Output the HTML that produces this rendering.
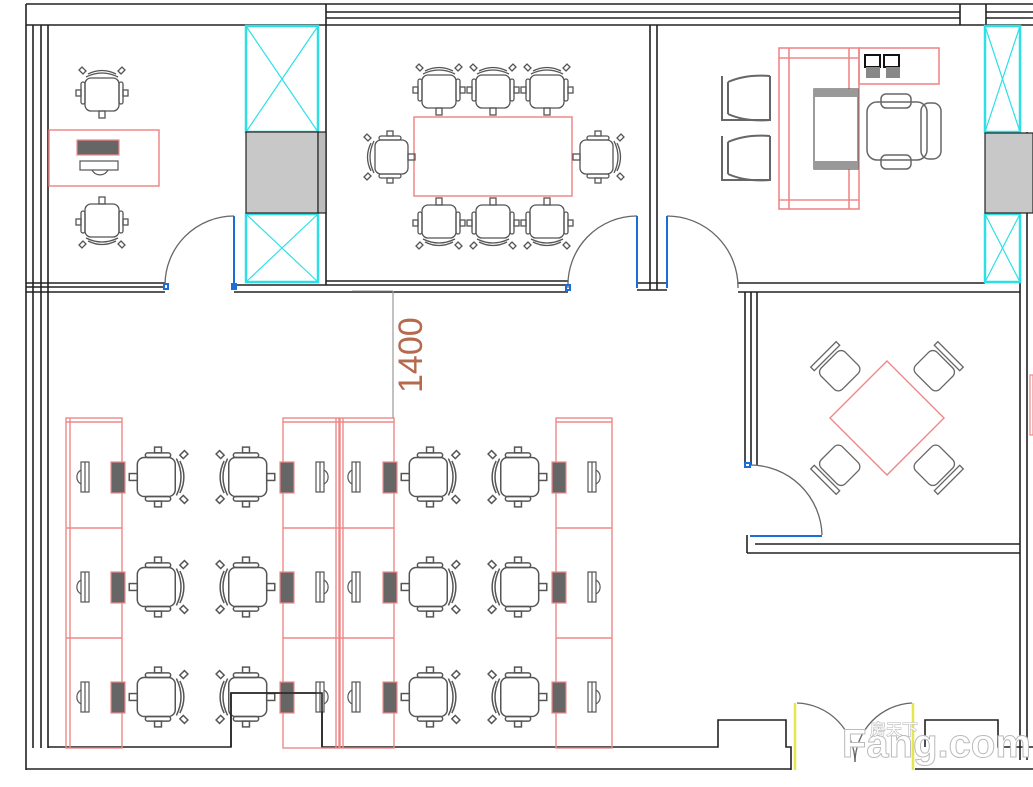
<!DOCTYPE html>
<html><head><meta charset="utf-8"><style>
html,body{margin:0;padding:0;background:#fff;}
svg{display:block;}
</style></head><body>
<svg width="1033" height="787" viewBox="0 0 1033 787" xmlns="http://www.w3.org/2000/svg">
<defs>
<g id="c" fill="none" stroke="#555" stroke-width="1.3">
  <rect x="-17" y="-15" width="34" height="33" rx="6"/>
  <path d="M-16,-16 Q0,-24 16,-16"/>
  <path d="M-14,-19 Q0,-26 14,-19"/>
  <rect x="-21" y="-11" width="4" height="22" rx="2"/>
  <rect x="17" y="-11" width="4" height="22" rx="2"/>
  <rect x="-26" y="-3" width="5" height="6"/>
  <rect x="21" y="-3" width="5" height="6"/>
  <rect x="-3" y="18" width="6" height="7"/>
  <path d="M-19,-19 l-4,-4 l3,-3 l4,4 z M19,-19 l4,-4 l-3,-3 l-4,4 z"/>
</g>
<g id="mon" fill="none" stroke="#555" stroke-width="1.2">
  <rect x="-4" y="-15" width="8" height="30" fill="#fff"/>
  <line x1="0" y1="-15" x2="0" y2="15"/>
  <path d="M-4,-7 A8,8 0 0 0 -4,7"/>
</g>
<g id="kb">
  <rect x="-7" y="-15" width="14" height="31" fill="#666" stroke="#e88" stroke-width="1.2"/>
</g>
<g id="lc" fill="none" stroke="#666" stroke-width="1.4">
  <path d="M-20,-10 L10,-10 Q20,-10 20,0 L20,14 Q20,22 12,22 L-20,22 Z" transform="rotate(0)"/>
  <rect x="-26" y="-14" width="6" height="38"/>
  <rect x="-20" y="-17" width="40" height="6" rx="3"/>
</g>
</defs>

<!-- outer walls -->
<g stroke="#222" stroke-width="1.6" fill="none">
  <line x1="26" y1="4" x2="1033" y2="4"/>
  <line x1="26" y1="4" x2="26" y2="770"/>
  <line x1="33" y1="25" x2="33" y2="748"/>
  <line x1="41" y1="25" x2="41" y2="748"/>
  <line x1="48" y1="25" x2="48" y2="748"/>
  <line x1="26" y1="25" x2="1033" y2="25"/>
  <line x1="326" y1="12" x2="960" y2="12"/>
  <line x1="326" y1="18" x2="960" y2="18"/>
  <line x1="986" y1="12" x2="1033" y2="12"/>
  <line x1="986" y1="18" x2="1033" y2="18"/>
  <line x1="326" y1="4" x2="326" y2="285"/>
  <line x1="960" y1="4" x2="960" y2="25"/>
  <line x1="986" y1="4" x2="986" y2="25"/>
  <line x1="650" y1="25" x2="650" y2="290"/>
  <line x1="657" y1="25" x2="657" y2="290"/>
  <line x1="1020" y1="25" x2="1020" y2="760"/>
  <line x1="1027" y1="132" x2="1027" y2="760"/>
  <!-- horizontal wall -->
  <line x1="26" y1="283" x2="165" y2="283"/>
  <line x1="26" y1="287" x2="165" y2="287"/>
  <line x1="26" y1="292" x2="165" y2="292"/>
  <line x1="234" y1="285" x2="568" y2="285"/>
  <line x1="234" y1="292" x2="568" y2="292"/>
  <line x1="326" y1="281" x2="568" y2="281"/>
  <line x1="637" y1="283" x2="667" y2="283"/>
  <line x1="637" y1="290" x2="667" y2="290"/>
  <line x1="738" y1="283" x2="985" y2="283"/>
  <line x1="738" y1="292" x2="1020" y2="292"/>
  <!-- right room -->
  <line x1="745" y1="292" x2="745" y2="465"/>
  <line x1="751" y1="292" x2="751" y2="465"/>
  <line x1="757" y1="292" x2="757" y2="465"/>
  <line x1="747" y1="535" x2="747" y2="553"/>
  <line x1="755" y1="544" x2="1020" y2="544"/>
  <line x1="747" y1="553" x2="1020" y2="553"/>
  <!-- bottom -->
  <polyline points="48,747 231,747 231,693 322,693 322,747 718,747 718,720 786,720 786,747 791,747 791,770"/>
  <line x1="26" y1="769" x2="791" y2="769"/>
  <polyline points="925,747 925,720 998,720 998,747 1033,747"/>
  <line x1="915" y1="769" x2="1033" y2="769"/>
</g>

<!-- cyan boxes / shafts -->
<g stroke="#2de0e6" stroke-width="2.5" fill="none">
  <rect x="246" y="26" width="72" height="106"/>
  <path d="M246,26 L318,132 M318,26 L246,132" stroke-width="1.2"/>
  <rect x="246" y="214" width="72" height="68"/>
  <path d="M246,214 L318,282 M318,214 L246,282" stroke-width="1.2"/>
  <rect x="985" y="26" width="35" height="106"/>
  <path d="M985,26 L1020,132 M1020,26 L985,132" stroke-width="1.2"/>
  <rect x="985" y="214" width="35" height="68"/>
  <path d="M985,214 L1020,282 M1020,214 L985,282" stroke-width="1.2"/>
</g>
<rect x="246" y="132" width="72" height="81" fill="#c8c8c8" stroke="#222" stroke-width="1.2"/>
<rect x="318" y="132" width="8" height="81" fill="#bbb" stroke="#222" stroke-width="1.2"/>
<rect x="985" y="133" width="48" height="80" fill="#c8c8c8" stroke="#222" stroke-width="1.2"/>

<!-- doors -->
<g fill="none" stroke="#666" stroke-width="1.3">
  <path d="M234,216 A69,69 0 0 0 165,285"/>
  <path d="M637,216 A69,69 0 0 0 568,288"/>
  <path d="M667,216 A71,71 0 0 1 738,288"/>
  <path d="M750,465 A72,72 0 0 1 822,535"/>
  <path d="M797,703 A60,60 0 0 1 855,762"/>
  <path d="M912,703 A60,60 0 0 0 855,762"/>
</g>
<g stroke="#1a6fd6" stroke-width="2" fill="none">
  <line x1="234" y1="216" x2="234" y2="288"/>
  <line x1="637" y1="216" x2="637" y2="288"/>
  <line x1="667" y1="216" x2="667" y2="288"/>
  <line x1="750" y1="536" x2="822" y2="536"/>
  <rect x="164" y="284" width="4" height="5"/>
  <rect x="232" y="284" width="4" height="5"/>
  <rect x="566" y="285" width="4" height="5"/>
  <rect x="745" y="463" width="5" height="4"/>
</g>
<g stroke="#e6e650" stroke-width="2.5">
  <line x1="795" y1="703" x2="795" y2="770"/>
  <line x1="913" y1="703" x2="913" y2="770"/>
</g>

<!-- room 1 -->
<rect x="49" y="130" width="110" height="56" fill="none" stroke="#e88" stroke-width="1.5"/>
<rect x="77" y="140" width="42" height="15" fill="#666" stroke="#e88" stroke-width="1.2"/>
<rect x="80" y="161" width="38" height="9" fill="none" stroke="#555" stroke-width="1.2"/>
<path d="M92,170 A9,9 0 0 0 108,170" fill="none" stroke="#555" stroke-width="1.2"/>
<use href="#c" transform="translate(102,93)"/>
<use href="#c" transform="translate(102,222) rotate(180)"/>

<!-- conference -->
<rect x="414" y="117" width="158" height="79" fill="none" stroke="#e88" stroke-width="1.5"/>
<use href="#c" transform="translate(439,90)"/>
<use href="#c" transform="translate(493,90)"/>
<use href="#c" transform="translate(547,90)"/>
<use href="#c" transform="translate(439,223) rotate(180)"/>
<use href="#c" transform="translate(493,223) rotate(180)"/>
<use href="#c" transform="translate(547,223) rotate(180)"/>
<use href="#c" transform="translate(390,157) rotate(-90)"/>
<use href="#c" transform="translate(598,157) rotate(90)"/>

<!-- manager -->
<g stroke="#e88" stroke-width="1.6" fill="none">
  <rect x="779" y="48" width="80" height="161"/>
  <line x1="789" y1="48" x2="789" y2="209"/>
  <line x1="849" y1="48" x2="849" y2="209"/>
  <line x1="779" y1="58" x2="859" y2="58"/>
  <line x1="779" y1="200" x2="859" y2="200"/>
  <rect x="859" y="48" width="80" height="36"/>
</g>
<rect x="814" y="89" width="44" height="80" fill="#fff" stroke="#666" stroke-width="1.3"/>
<rect x="814" y="89" width="44" height="8" fill="#999"/>
<rect x="814" y="161" width="44" height="8" fill="#999"/>
<rect x="865" y="55" width="15" height="12" fill="#fff" stroke="#111" stroke-width="2"/>
<rect x="884" y="55" width="15" height="12" fill="#fff" stroke="#111" stroke-width="2"/>
<rect x="866" y="67" width="14" height="11" fill="#888"/>
<rect x="886" y="67" width="14" height="11" fill="#888"/>
<g fill="none" stroke="#666" stroke-width="1.5">
  <rect x="867" y="102" width="60" height="58" rx="10"/>
  <rect x="881" y="94" width="30" height="14" rx="5"/>
  <rect x="881" y="155" width="30" height="14" rx="5"/>
  <rect x="921" y="103" width="20" height="56" rx="8"/>
</g>
<g fill="none" stroke="#666" stroke-width="2">
  <path d="M722,76 L722,120 L770,120 L770,76 M728,82 Q746,74 770,76 M728,114 Q746,122 770,120 M728,82 L728,114"/>
  <path d="M722,136 L722,180 L770,180 L770,136 M728,142 Q746,134 770,136 M728,174 Q746,182 770,180 M728,142 L728,174"/>
</g>

<!-- meeting room -->
<polygon points="887,361 944,418 887,475 830,418" fill="none" stroke="#e88" stroke-width="1.4"/>
<g fill="none" stroke="#666" stroke-width="1.3">
  <g transform="translate(839,370) rotate(-45)"><rect x="-17" y="-14" width="34" height="30" rx="6"/><rect x="-18" y="-22" width="36" height="5"/></g>
  <g transform="translate(935,370) rotate(45)"><rect x="-17" y="-14" width="34" height="30" rx="6"/><rect x="-18" y="-22" width="36" height="5"/></g>
  <g transform="translate(839,466) rotate(-135)"><rect x="-17" y="-14" width="34" height="30" rx="6"/><rect x="-18" y="-22" width="36" height="5"/></g>
  <g transform="translate(935,466) rotate(135)"><rect x="-17" y="-14" width="34" height="30" rx="6"/><rect x="-18" y="-22" width="36" height="5"/></g>
</g>
<rect x="1030" y="375" width="3" height="60" fill="none" stroke="#e88" stroke-width="1.2"/>

<!-- dimension -->
<line x1="352" y1="291" x2="393" y2="291" stroke="#999" stroke-width="1"/>
<line x1="393" y1="291" x2="393" y2="418" stroke="#999" stroke-width="1.2"/>
<text transform="translate(422,393) rotate(-90)" font-family="Liberation Sans, sans-serif" font-size="34" fill="#b5694d">1400</text>

<!-- workstations -->
<g stroke="#e88" stroke-width="1.4" fill="none">
  <rect x="66" y="418" width="56" height="330"/>
  <line x1="66" y1="528" x2="122" y2="528"/><line x1="66" y1="638" x2="122" y2="638"/>
  <line x1="66" y1="422" x2="122" y2="422"/><line x1="70" y1="418" x2="70" y2="748"/>
  <rect x="283" y="418" width="56" height="330"/>
  <line x1="283" y1="528" x2="339" y2="528"/><line x1="283" y1="638" x2="339" y2="638"/>
  <line x1="283" y1="422" x2="339" y2="422"/><line x1="336" y1="418" x2="336" y2="748"/>
  <rect x="340" y="418" width="54" height="330"/>
  <line x1="340" y1="528" x2="394" y2="528"/><line x1="340" y1="638" x2="394" y2="638"/>
  <line x1="340" y1="422" x2="394" y2="422"/><line x1="343" y1="418" x2="343" y2="748"/>
  <rect x="556" y="418" width="56" height="330"/>
  <line x1="556" y1="528" x2="612" y2="528"/><line x1="556" y1="638" x2="612" y2="638"/>
  <line x1="556" y1="422" x2="612" y2="422"/>
</g>
<g id="row">
  <use href="#mon" transform="translate(85,477)"/>
  <use href="#kb" transform="translate(118,477)"/>
  <use href="#c" transform="translate(158,477) rotate(90) scale(1.15)"/>
  <use href="#c" transform="translate(246,477) rotate(-90) scale(1.15)"/>
  <use href="#kb" transform="translate(287,477)"/>
  <use href="#mon" transform="translate(320,477) scale(-1,1)"/>
  <use href="#mon" transform="translate(356,477)"/>
  <use href="#kb" transform="translate(390,477)"/>
  <use href="#c" transform="translate(430,477) rotate(90) scale(1.15)"/>
  <use href="#c" transform="translate(518,477) rotate(-90) scale(1.15)"/>
  <use href="#kb" transform="translate(559,477)"/>
  <use href="#mon" transform="translate(592,477) scale(-1,1)"/>
</g>
<use href="#row" transform="translate(0,110)"/>
<use href="#row" transform="translate(0,220)"/>
<polyline points="231,747 231,693 322,693 322,747" fill="none" stroke="#222" stroke-width="1.6"/>

<!-- watermark -->
<text x="842" y="757" font-family="Liberation Sans, sans-serif" font-size="40" font-weight="bold" fill="#fff" stroke="#bbb" stroke-width="1">Fang.com</text>
<text x="870" y="735" font-family="Liberation Sans, 'Noto Sans CJK SC', sans-serif" font-size="16" font-weight="bold" fill="#fff" stroke="#bbb" stroke-width="0.6">房天下</text>
</svg>
</body></html>
